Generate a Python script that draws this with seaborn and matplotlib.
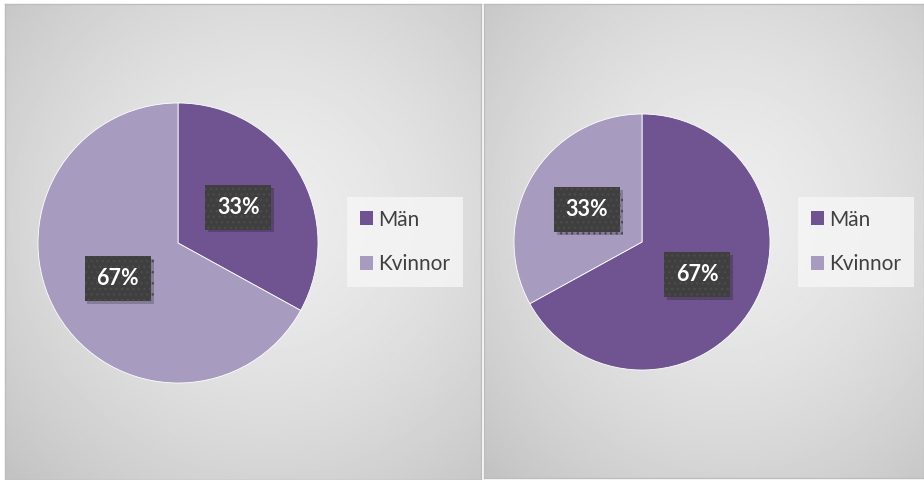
import numpy as np
import matplotlib
matplotlib.use("Agg")
import matplotlib.pyplot as plt
import matplotlib.patheffects as pe
from matplotlib.patches import Patch
import seaborn as sns

# data
categories = ["Män", "Kvinnor"]
left_values = [33, 67]
right_values = [67, 33]

sns.set_theme(style="white")
plt.rcParams["font.family"] = ["Lato", "DejaVu Sans"]
colors = sns.color_palette(["#6F5491", "#A79BBF"])

W, H = 924, 480
fig = plt.figure(figsize=(W / 100, H / 100), dpi=100, facecolor="white")


def px_rect(x0, y0, x1, y1):
    return [x0 / W, 1 - y1 / H, (x1 - x0) / W, (y1 - y0) / H]


# radial gradient backgrounds
yy, xx = np.mgrid[-1:1:300j, -1:1:300j]
rr = np.sqrt((xx - 0.1) ** 2 + (yy + 0.1) ** 2) / 1.5
grad = np.clip(0.93 - 0.16 * rr ** 1.5, 0, 1)

for rect in [(5, 4, 481, 480), (484, 4, 924, 478)]:
    bg = fig.add_axes(px_rect(*rect))
    bg.imshow(grad, cmap="gray", vmin=0, vmax=1, extent=[0, 1, 0, 1],
              aspect="auto", interpolation="bilinear")
    bg.set_xticks([])
    bg.set_yticks([])
    for s in bg.spines.values():
        s.set_color("#bdbdbd")
        s.set_linewidth(1)


def draw_pie(rect, values, legend_xy):
    ax = fig.add_axes(px_rect(*rect))
    wedges, texts, autotexts = ax.pie(
        values, colors=colors, startangle=90, counterclock=False,
        autopct="%1.0f%%", pctdistance=0.5,
        wedgeprops=dict(edgecolor="white", linewidth=0.6),
    )
    ax.set_xlim(-1, 1)
    ax.set_ylim(-1, 1)
    ax.set_aspect("equal")
    for t in autotexts:
        t.set_color("white")
        t.set_fontsize(15.5)
        t.set_fontweight("bold")
        t.set_bbox(dict(boxstyle="square,pad=0.55", facecolor="#3f3f3f",
                        edgecolor="#4b4b4b", linewidth=0, hatch="..."))
        t.get_bbox_patch().set_path_effects([
            pe.withSimplePatchShadow(offset=(2, -2), shadow_rgbFace="black",
                                     alpha=0.2),
            pe.Normal(),
        ])
    handles = [Patch(facecolor=c, edgecolor="none") for c in colors]
    leg = fig.legend(handles, categories, loc="center left",
                     bbox_to_anchor=(legend_xy[0] / W, 1 - legend_xy[1] / H),
                     fontsize=15, frameon=True, fancybox=False,
                     handlelength=0.65, handleheight=0.65, handletextpad=0.25,
                     labelspacing=1.2, borderpad=0.6, borderaxespad=0)
    leg.get_frame().set_facecolor("#f6f6f6")
    leg.get_frame().set_alpha(0.8)
    leg.get_frame().set_linewidth(0)
    for txt in leg.get_texts():
        txt.set_color("#404040")


draw_pie((38, 103, 318, 383), left_values, (347, 242))
draw_pie((514, 114, 770, 370), right_values, (798, 242))

plt.savefig("out.png", dpi=100, facecolor="white")
